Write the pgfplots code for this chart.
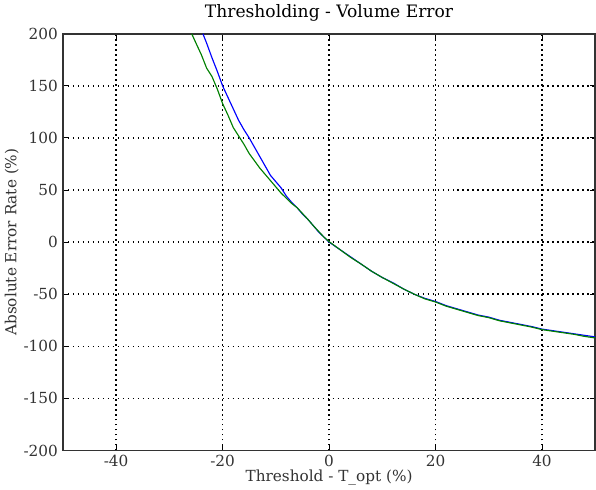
\documentclass[border=0pt]{standalone}
\usepackage{fontspec}
\setmainfont{DejaVu Serif}
\usepackage{pgfplots}
\pgfplotsset{compat=1.18}

\definecolor{mplblue}{RGB}{0,0,255}
\definecolor{mplgreen}{RGB}{0,128,0}

\pgfplotstableread{
x y
-23.7 200
-23 191
-22 177
-21 164
-20 150
-19 139
-18 128
-17 117
-16 108
-15 100
-14 91
-13 82
-12 73
-11 64
-10 58
-9 52
-8 44
-7 38
-6 33
-5 27
-4 22
-3 16
-2 10
-1 5
0 0
2 -7
4 -14
6 -21
8 -28
10 -34
12 -39
14 -45
16 -50
18 -54
20 -57
22 -61
24 -64
26 -67
28 -70
30 -72
32 -75
34 -77
36 -79
38 -81
40 -83.5
42 -85
44 -86.5
46 -88
48 -89.5
50 -91
}\blueerr

\pgfplotstableread{
x y
-25.8 200
-25 191
-24 180
-23 167
-22 159
-21 147
-20 133
-19 122
-18 110
-17 102
-16 94
-15 85
-14 78
-13 71
-12 65
-11 59
-10 53
-9 47
-8 42
-7 37
-6 33
-5 27.5
-4 22
-3 16
-2 10.5
-1 5
0 0.5
2 -7
4 -14.5
6 -21
8 -28
10 -34
12 -39.5
14 -45
16 -50
18 -54.5
20 -57.5
22 -61.5
24 -64.5
26 -67.5
28 -70.5
30 -72.5
32 -75.5
34 -77.5
36 -79.5
38 -81.5
40 -84
42 -85.5
44 -87
46 -88.5
48 -90.5
50 -92
}\greenerr

\begin{document}
\begin{tikzpicture}
\begin{axis}[
    scale only axis,
    width=373pt,
    height=292pt,
    xmin=-50, xmax=50,
    ymin=-200, ymax=200,
    xtick={-40,-20,0,20,40},
    xticklabels={-40,-20,0,20,40},
    ytick={-200,-150,-100,-50,0,50,100,150,200},
    yticklabels={-200,-150,-100,-50,0,50,100,150,200},
    tick align=inside,
    major tick length=4pt,
    tick style={black, line width=0.6pt},
    grid=major,
    grid style={black, line width=1pt, dash pattern=on 1pt off 2.5pt},
    axis line style={black!80, line width=1.1pt},
    ticklabel style={font=\fontsize{10.7}{12}\selectfont, text=black!80},
    label style={font=\fontsize{10.7}{12}\selectfont, text=black!80},
    title style={font=\fontsize{12}{14}\selectfont, yshift=-1pt},
    title={Thresholding - Volume Error},
    xlabel={Threshold - T\_opt (\%)},
    ylabel={Absolute Error Rate (\%)},
    xlabel style={yshift=5pt},
    ylabel style={yshift=-3.5pt},
    clip=true,
]
\addplot[mplblue, line width=0.8pt] table[x=x, y=y] {\blueerr};
\addplot[mplgreen, line width=0.8pt] table[x=x, y=y] {\greenerr};
\end{axis}
\end{tikzpicture}
\end{document}
